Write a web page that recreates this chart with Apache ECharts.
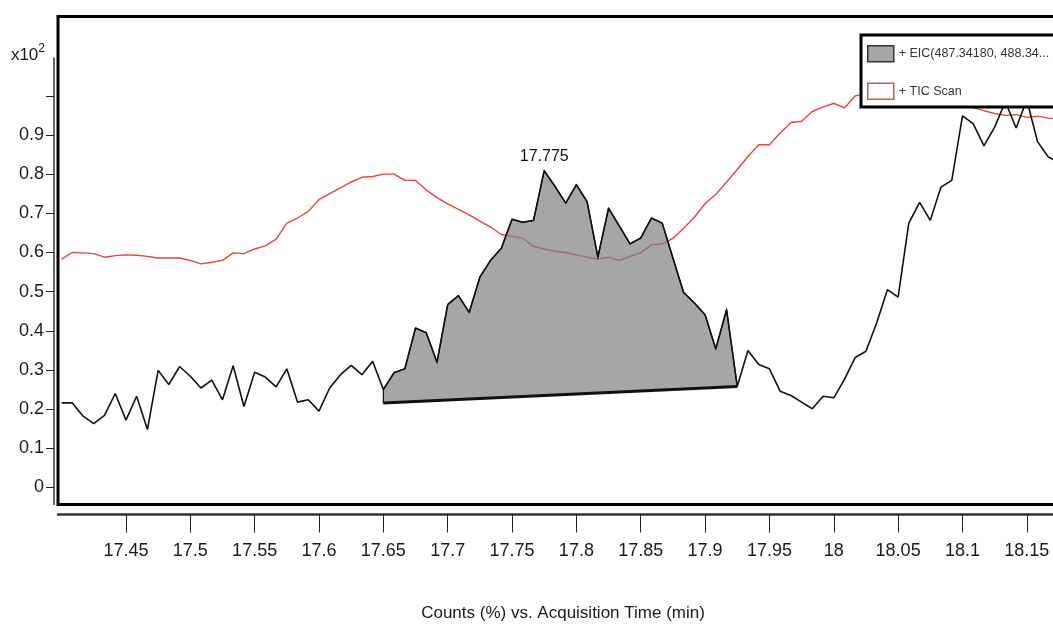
<!DOCTYPE html>
<html>
<head>
<meta charset="utf-8">
<script src="https://cdn.jsdelivr.net/npm/echarts@6/dist/echarts.min.js"></script>
<style>
html,body{margin:0;padding:0;background:#fff;}
#c{width:1053px;height:627px;}
</style>
</head>
<body>
<div id="c"></div>
<script>
// Acquisition times (min), one scan every 0.5 s
const times = [
  17.4000,17.4083,17.4167,17.4250,17.4333,17.4417,17.4500,17.4583,17.4667,17.4750,17.4833,17.4917,
  17.5000,17.5083,17.5167,17.5250,17.5333,17.5417,17.5500,17.5583,17.5667,17.5750,17.5833,17.5917,
  17.6000,17.6083,17.6167,17.6250,17.6333,17.6417,17.6500,17.6583,17.6667,17.6750,17.6833,17.6917,
  17.7000,17.7083,17.7167,17.7250,17.7333,17.7417,17.7500,17.7583,17.7667,17.7750,17.7833,17.7917,
  17.8000,17.8083,17.8167,17.8250,17.8333,17.8417,17.8500,17.8583,17.8667,17.8750,17.8833,17.8917,
  17.9000,17.9083,17.9167,17.9250,17.9333,17.9417,17.9500,17.9583,17.9667,17.9750,17.9833,17.9917,
  18.0000,18.0083,18.0167,18.0250,18.0333,18.0417,18.0500,18.0583,18.0667,18.0750,18.0833,18.0917,
  18.1000,18.1083,18.1167,18.1250,18.1333,18.1417,18.1500,18.1583,18.1667,18.1750
];
// EIC counts (x10^2)
const eic = [
  0.216,0.216,0.182,0.163,0.184,0.240,0.172,0.233,0.148,0.299,0.263,0.309,
  0.284,0.254,0.274,0.224,0.311,0.207,0.294,0.282,0.257,0.303,0.218,0.224,
  0.195,0.254,0.288,0.312,0.288,0.322,0.250,0.293,0.303,0.407,0.395,0.320,
  0.467,0.490,0.447,0.537,0.580,0.611,0.685,0.677,0.682,0.809,0.769,0.726,
  0.773,0.730,0.588,0.713,0.668,0.622,0.637,0.688,0.675,0.586,0.498,0.471,
  0.441,0.354,0.454,0.258,0.350,0.314,0.303,0.246,0.235,0.218,0.201,0.233,
  0.229,0.276,0.332,0.348,0.420,0.505,0.486,0.675,0.728,0.682,0.767,0.784,
  0.949,0.929,0.872,0.920,0.985,0.918,0.990,0.883,0.844,0.830
];
// TIC counts (x10^2)
const tic = [
  0.583,0.600,0.599,0.597,0.588,0.592,0.594,0.593,0.590,0.586,0.586,0.586,
  0.580,0.571,0.575,0.580,0.599,0.597,0.609,0.617,0.634,0.675,0.688,0.705,
  0.735,0.750,0.765,0.780,0.792,0.794,0.800,0.800,0.784,0.784,0.760,0.740,
  0.724,0.710,0.696,0.680,0.665,0.646,0.641,0.636,0.616,0.609,0.603,0.600,
  0.594,0.588,0.583,0.588,0.580,0.590,0.599,0.620,0.622,0.636,0.662,0.690,
  0.725,0.748,0.780,0.812,0.845,0.875,0.875,0.905,0.932,0.935,0.960,0.971,
  0.981,0.969,1.000,1.005,1.010,1.010,1.005,1.000,0.995,0.990,0.985,0.980,
  0.975,0.970,0.962,0.955,0.950,0.952,0.945,0.948,0.943,0.940
];
// integrated peak: start / end scan index and baseline heights at those ends
const peakIdx = [30, 63];
const peakBaseline = [0.216, 0.258];

const xTicks = [17.45,17.5,17.55,17.6,17.65,17.7,17.75,17.8,17.85,17.9,17.95,18,18.05,18.1,18.15];
const yTicks = [0,0.1,0.2,0.3,0.4,0.5,0.6,0.7,0.8,0.9,1.0];
const yLabels = [0,0.1,0.2,0.3,0.4,0.5,0.6,0.7,0.8,0.9];

const eicName = '+ EIC(487.34180, 488.34...';
const ticName = '+ TIC Scan';
const xTitle = 'Counts (%) vs. Acquisition Time (min)';

const FONT = '"Liberation Sans Narrow","Liberation Sans",Arial,sans-serif';
const X_MIN = 17.3972, X_MAX = 18.182;
const Y_MIN = -0.0434, Y_MAX = 1.2025, Y_AXIS_MAX = 1.0965;

const pairs = arr => times.map((t, i) => [t, arr[i]]);

const chart = echarts.init(document.getElementById('c'), null, {renderer: 'canvas'});

const option = {
  animation: false,
  backgroundColor: '#fff',
  grid: [
    {left: 58, top: 16.5, width: 1010, bottom: 122.5, outerBoundsMode: 'none', containLabel: false,
     show: true, borderColor: '#000', borderWidth: 3, backgroundColor: 'rgba(0,0,0,0)'},
    {left: 58, top: 58, width: 1010, bottom: 122.5, outerBoundsMode: 'none', containLabel: false, show: false}
  ],
  xAxis: [
    {
      gridIndex: 0, type: 'value', min: X_MIN, max: X_MAX, offset: 10,
      axisLine: {show: true, onZero: false, lineStyle: {color: '#333', width: 2.5}},
      axisTick: {show: true, length: 18, customValues: xTicks, lineStyle: {color: '#222', width: 1}},
      axisLabel: {customValues: xTicks, margin: 28, fontFamily: FONT, fontSize: 18, color: '#1a1a1a',
                  formatter: v => String(+(+v).toFixed(2))},
      splitLine: {show: false},
      name: xTitle, nameLocation: 'middle', nameGap: 90,
      nameTextStyle: {fontFamily: FONT, fontSize: 17, color: '#1a1a1a'}
    },
    {gridIndex: 1, type: 'value', min: X_MIN, max: X_MAX, show: false}
  ],
  yAxis: [
    {gridIndex: 0, type: 'value', min: Y_MIN, max: Y_MAX, show: false},
    {
      gridIndex: 1, type: 'value', min: Y_MIN, max: Y_AXIS_MAX, offset: 4,
      axisLine: {show: true, onZero: false, lineStyle: {color: '#333', width: 1.5}},
      axisTick: {show: true, length: 8, customValues: yTicks, lineStyle: {color: '#222', width: 1}},
      axisLabel: {customValues: yLabels, margin: 10, fontFamily: FONT, fontSize: 18, color: '#1a1a1a',
                  formatter: v => String(+(+v).toFixed(1))},
      splitLine: {show: false},
      name: 'x10{sup|2}', nameLocation: 'end', nameGap: 3,
      nameTextStyle: {fontFamily: FONT, fontSize: 17, color: '#1a1a1a', align: 'right', verticalAlign: 'middle',
                      padding: [0, 9, 0, 0], lineHeight: 24,
                      rich: {sup: {fontFamily: FONT, fontSize: 12, color: '#1a1a1a', verticalAlign: 'top', lineHeight: 14}}}
    }
  ],
  legend: {
    orient: 'vertical', left: 861, top: 35, z: 10,
    backgroundColor: '#fff', borderColor: '#000', borderWidth: 3, borderRadius: 0,
    padding: [10, 40, 7, 6], itemWidth: 26, itemHeight: 16, itemGap: 20, itemTextGap: 8,
    textStyle: {fontFamily: FONT, fontSize: 12.5, color: '#333'},
    data: [
      {name: eicName, icon: 'rect', itemStyle: {color: '#a6a6a6', borderColor: '#333', borderWidth: 1.5}},
      {name: ticName, icon: 'rect', itemStyle: {color: '#fff', borderColor: '#d9534f', borderWidth: 1.5}}
    ]
  },
  series: [
    {
      name: ticName, type: 'line', xAxisIndex: 0, yAxisIndex: 0, z: 2,
      data: pairs(tic), symbol: 'none', smooth: false,
      lineStyle: {color: '#e0483c', width: 1.4}, itemStyle: {color: '#e0483c'}
    },
    {
      name: 'peak', type: 'custom', xAxisIndex: 0, yAxisIndex: 0, z: 3,
      data: [[times[peakIdx[0]], eic[peakIdx[0]]]],
      renderItem: function (params, api) {
        if (params.dataIndex !== 0) return null;
        const pts = [];
        let apex = peakIdx[0];
        for (let i = peakIdx[0]; i <= peakIdx[1]; i++) {
          pts.push(api.coord([times[i], eic[i]]));
          if (eic[i] > eic[apex]) apex = i;
        }
        const bEnd = api.coord([times[peakIdx[1]], peakBaseline[1]]);
        const bStart = api.coord([times[peakIdx[0]], peakBaseline[0]]);
        pts.push(bEnd, bStart);
        const ap = api.coord([times[apex], eic[apex]]);
        return {
          type: 'group',
          children: [
            {type: 'polygon', shape: {points: pts}, style: {fill: 'rgba(128,128,128,0.7)', stroke: '#111', lineWidth: 1.2}},
            {type: 'line', shape: {x1: bStart[0], y1: bStart[1], x2: bEnd[0], y2: bEnd[1]}, style: {stroke: '#111', lineWidth: 3}},
            {type: 'text', x: ap[0], y: ap[1] - 6,
             style: {text: times[apex].toFixed(3), fontFamily: FONT, fontSize: 16, fill: '#111', align: 'center', verticalAlign: 'bottom'}}
          ]
        };
      }
    },
    {
      name: eicName, type: 'line', xAxisIndex: 0, yAxisIndex: 0, z: 4,
      data: pairs(eic), symbol: 'none', smooth: false,
      lineStyle: {color: '#111', width: 1.6}, itemStyle: {color: '#a6a6a6'}
    }
  ]
};
chart.setOption(option);
</script>
</body>
</html>
